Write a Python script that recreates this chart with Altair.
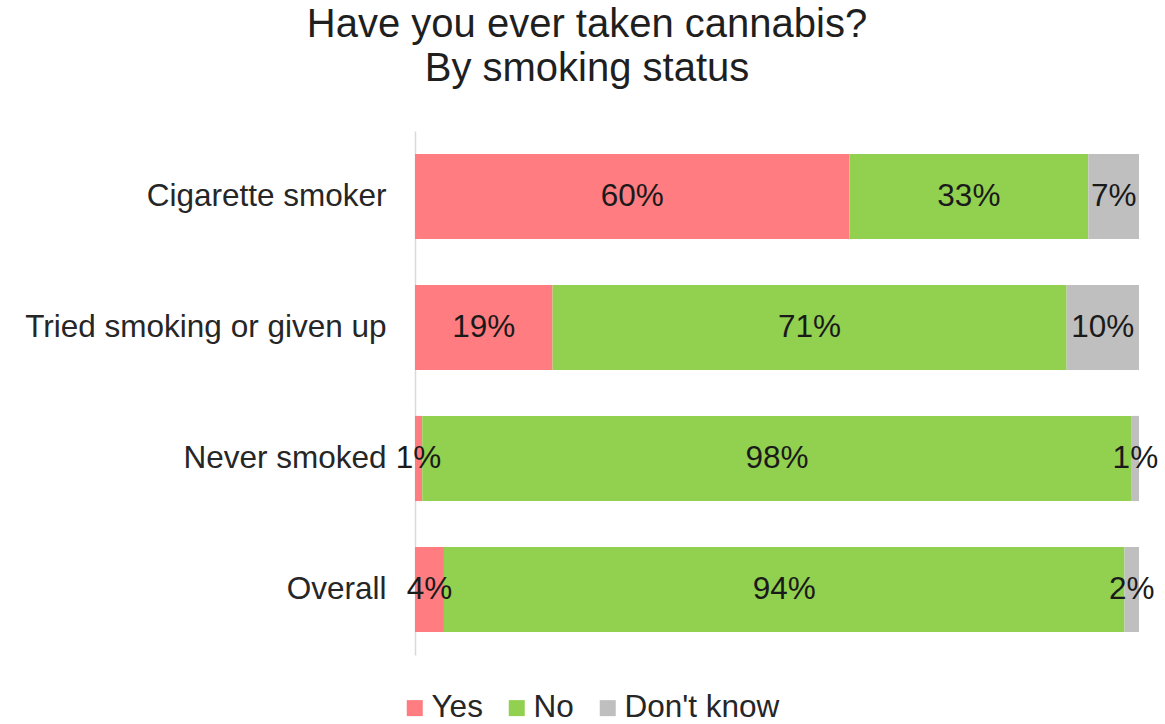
import altair as alt
import pandas as pd

# Survey answers by smoking status (percent of respondents)
groups = ["Cigarette smoker", "Tried smoking or given up", "Never smoked", "Overall"]
answers = ["Yes", "No", "Don't know"]
yes_pct = [60, 19, 1, 4]
no_pct = [33, 71, 98, 94]
dont_know_pct = [7, 10, 1, 2]
colors = ["#FF7C80", "#92D050", "#BFBFBF"]

FONT = "Liberation Sans"
TEXT_SIZE = 31.5

rows = []
for i, g in enumerate(groups):
    start = 0
    for ans, vals in zip(answers, [yes_pct, no_pct, dont_know_pct]):
        v = vals[i]
        rows.append({
            "group": g,
            "answer": ans,
            "value": v,
            "start": start,
            "end": start + v,
            "mid": start + v / 2,
            "label": f"{v}%",
        })
        start += v
df = pd.DataFrame(rows)

y_enc = alt.Y(
    "group:N",
    sort=groups,
    scale=alt.Scale(paddingInner=0.35, paddingOuter=0.175),
    axis=alt.Axis(
        title=None,
        ticks=False,
        labelFontSize=TEXT_SIZE,
        labelFont=FONT,
        labelColor="#262626",
        labelPadding=29,
        labelLimit=0,
        domainColor="#d9d9d9",
        domainWidth=1.5,
        grid=False,
    ),
)

x_scale = alt.Scale(domain=[0, 100], nice=False, zero=True)

bars = alt.Chart(df).mark_bar(cornerRadius=0).encode(
    x=alt.X("start:Q", scale=x_scale, axis=None),
    x2="end:Q",
    y=y_enc,
    color=alt.Color(
        "answer:N",
        scale=alt.Scale(domain=answers, range=colors),
        legend=alt.Legend(
            title=None,
            orient="none",
            direction="horizontal",
            legendX=-16,
            legendY=561,
            symbolType="square",
            symbolSize=256,
            symbolStrokeWidth=0,
            labelFontSize=TEXT_SIZE,
            labelFont=FONT,
            labelColor="#262626",
            labelOffset=1,
            columnPadding=18,
            padding=0,
        ),
    ),
)

labels = alt.Chart(df).mark_text(
    fontSize=TEXT_SIZE, font=FONT, color="#1a1a1a", align="center", baseline="middle"
).encode(
    x=alt.X("mid:Q", scale=x_scale),
    y=alt.Y("group:N", sort=groups),
    text="label:N",
)

chart = (
    alt.layer(bars, labels)
    .properties(
        width=724,
        height=524,
        background="white",
        padding={"left": 415, "top": 131, "right": 26, "bottom": 69},
        autosize=alt.AutoSizeParams(type="none"),
        title=alt.TitleParams(
            ["Have you ever taken cannabis?", "By smoking status"],
            fontSize=40,
            font=FONT,
            fontWeight="normal",
            color="#1f1f1f",
            anchor="middle",
            frame="group",
            dx=-190,
            offset=42,
            lineHeight=44,
        ),
    )
    .configure_view(strokeWidth=0, stroke="transparent")
)

chart.save("out.html", embed_options={"renderer": "svg", "actions": False})
